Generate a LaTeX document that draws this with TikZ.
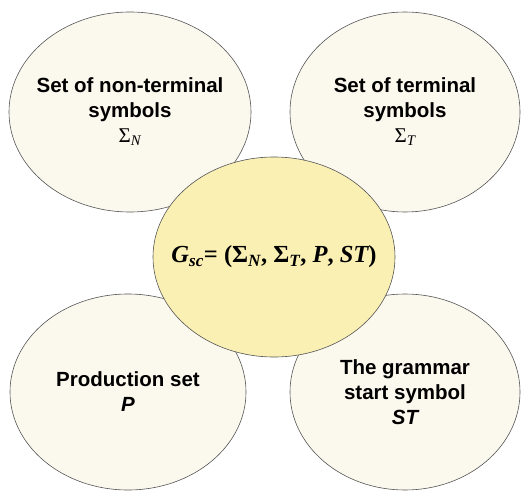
\documentclass[tikz,border=0pt]{standalone}
\usepackage{fontspec}
\setmainfont{Liberation Serif}
\setsansfont{Liberation Sans}
\usetikzlibrary{shapes,positioning}

\definecolor{setfill}{RGB}{251,248,238}
\definecolor{gramfill}{RGB}{250,240,180}
\definecolor{rimgray}{RGB}{85,85,85}

\newcommand{\symset}[1]{{\rmfamily\mdseries\fontsize{21}{25}\selectfont Σ\textsubscript{\itshape #1}}}

\begin{document}
\begin{tikzpicture}[x=1pt, y=1pt, semithick]
        \tikzset{setnode/.style={draw=rimgray, fill=setfill, ellipse, inner xsep=-30pt, inner ysep=0pt, align=center,
                 font=\sffamily\bfseries\fontsize{20.5}{25}\selectfont},
                 gramnode/.style={draw=rimgray, fill=gramfill, ellipse, inner xsep=-40pt, inner ysep=0pt,
                 font=\rmfamily\bfseries\fontsize{24.5}{28}\selectfont}}
        \useasboundingbox (0,0) rectangle (521,493);

        % Outer sets
        \node[setnode, minimum width=242pt, minimum height=200pt] (nonterm) at (130,381)
            {Set of non-terminal\\symbols\\\symset{N}};
        \node[setnode, minimum width=230pt, minimum height=200pt, right of=nonterm, node distance=275pt] (term)
            {Set of terminal\\symbols\\\symset{T}};
        \node[setnode, minimum width=236pt, minimum height=196pt, below of=nonterm, node distance=280pt, xshift=-2pt] (prod)
            {Production set\\\itshape P};
        \node[setnode, minimum width=230pt, minimum height=196pt, right of=prod, node distance=277pt] (start)
            {The grammar\\start symbol\\\itshape ST};

        % Grammar in the middle
        \node[gramnode, minimum width=242pt, minimum height=200pt, right of=nonterm, node distance=144pt, yshift=-145pt] (gsc)
            {\raisebox{-4pt}{\itshape G\textsubscript{sc}\upshape= (Σ\textsubscript{\itshape N}, Σ\textsubscript{\itshape T}, \itshape P\upshape, \itshape ST\upshape)}};
    \end{tikzpicture}
\end{document}
